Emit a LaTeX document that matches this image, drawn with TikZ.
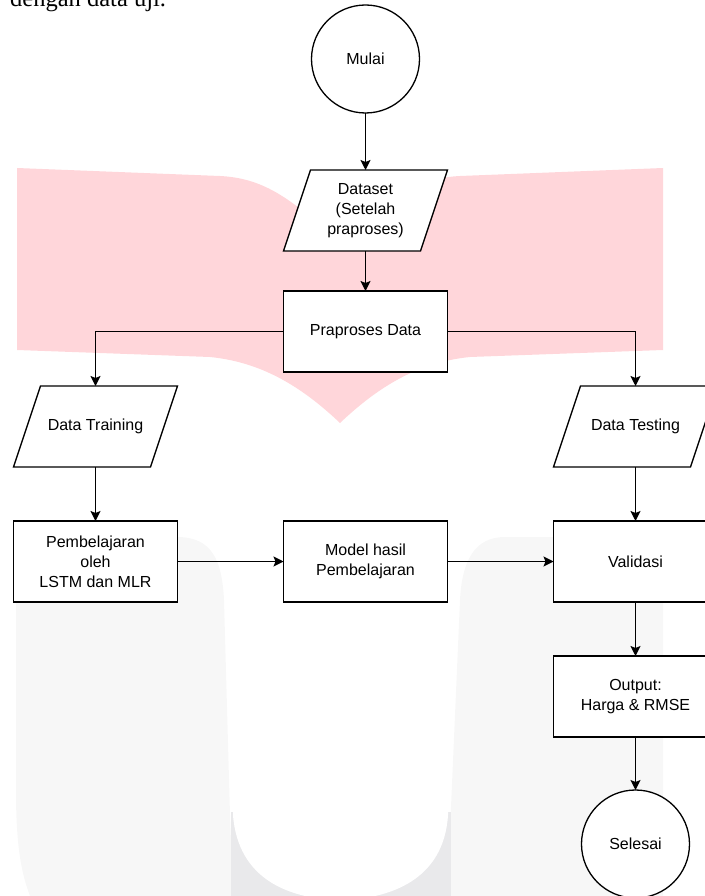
\documentclass[tikz,border=0pt]{standalone}
\usepackage{fontspec}
\setmainfont{Liberation Serif}
\newfontfamily\diagfont{Liberation Sans}
\usetikzlibrary{arrows.meta,calc}
\definecolor{wmpink}{RGB}{255,214,218}
\definecolor{wmgray}{RGB}{247,247,247}
\definecolor{wmgraydk}{RGB}{233,233,235}
\pgfdeclarelayer{back}
\pgfsetlayers{back,main}
\begin{document}
\begin{tikzpicture}[x=1pt,y=-1pt,
  txt/.style={font=\diagfont\fontsize{16}{20}\selectfont, align=center, text=black},
  procbox/.style={txt, draw=black, fill=white, line width=1.3pt, minimum width=164pt, minimum height=81pt, inner sep=0pt, outer sep=0pt},
  iobox/.style={txt, minimum width=164pt, minimum height=81pt, inner sep=0pt, outer sep=0pt},
  ioshape/.style={draw=black, fill=white, line width=1.3pt, line join=miter},
  termbox/.style={txt, circle, draw=black, fill=white, line width=1.3pt, minimum size=108pt, inner sep=0pt, outer sep=0pt},
  conn/.style={draw=black, line width=1.3pt, -{Stealth[length=10pt,width=10pt,inset=2pt]}}
]
\useasboundingbox (0,0) rectangle (704,896);

% caption fragment
\node[anchor=base west, inner sep=0pt, font=\fontsize{24.5}{28}\selectfont] (cap) at (10,6.5) {dengan data uji.};

% nodes
\node[termbox] (mulai) at (365.5,59) {Mulai};
\node[iobox] (dataset) at (365.5,210.5) {Dataset\\(Setelah\\praproses)};
\node[procbox] (prep) at (365.5,331.5) {Praproses Data};
\node[iobox] (train) at (95.5,426.5) {Data Training};
\node[iobox] (test) at (635.5,426.5) {Data Testing};
\node[procbox] (learn) at (95.5,561.5) {Pembelajaran\\oleh\\LSTM dan MLR};
\node[procbox] (model) at (365.5,561.5) {Model hasil\\Pembelajaran};
\node[procbox] (valid) at (635.5,561.5) {Validasi};
\node[procbox] (out) at (635.5,696.5) {Output:\\Harga \& RMSE};
\node[termbox] (selesai) at (635.5,844) {Selesai};

\begin{pgfonlayer}{back}
  % watermark: pink book
  \fill[wmpink] (17,168) -- (220,176) .. controls (260,178) and (290,195) .. (340,245)
    .. controls (390,195) and (420,178) .. (460,176) -- (663,168) -- (663,350) -- (470,357)
    .. controls (420,362) and (380,385) .. (340,423)
    .. controls (300,385) and (260,362) .. (210,357) -- (17,350) -- cycle;
  % watermark: gray U
  \fill[wmgray] (30,896) .. controls (20,870) and (16,840) .. (16,790) -- (16,577)
    .. controls (16,555) and (34,537) .. (56,537) -- (177,537)
    .. controls (212,537) and (222,560) .. (224,600) -- (230,815) -- (233,896) -- cycle;
  \fill[wmgray] (450,896) -- (450,830) -- (460,600) .. controls (462,560) and (475,537) .. (505,537)
    -- (623,537) .. controls (645,537) and (663,555) .. (663,577) -- (663,896) -- cycle;
  \fill[wmgraydk] (231,812) rectangle (451,896);
  \fill[white] (233,780) -- (233,815) .. controls (238,880) and (290,899) .. (340,900)
    .. controls (390,899) and (444,880) .. (448,815) -- (448,780) -- cycle;
  % data parallelograms
  \foreach \n in {dataset,train,test}
    \draw[ioshape] ([xshift=27pt]\n.north west) -- (\n.north east)
      -- ([xshift=-27pt]\n.south east) -- (\n.south west) -- cycle;
\end{pgfonlayer}

% connectors
\draw[conn] (mulai) -- (dataset);
\draw[conn] (dataset) -- (prep);
\draw[conn] (prep.west) -| (train.north);
\draw[conn] (prep.east) -| (test.north);
\draw[conn] (train) -- (learn);
\draw[conn] (test) -- (valid);
\draw[conn] (learn) -- (model);
\draw[conn] (model) -- (valid);
\draw[conn] (valid) -- (out);
\draw[conn] (out) -- (selesai);
\end{tikzpicture}
\end{document}
